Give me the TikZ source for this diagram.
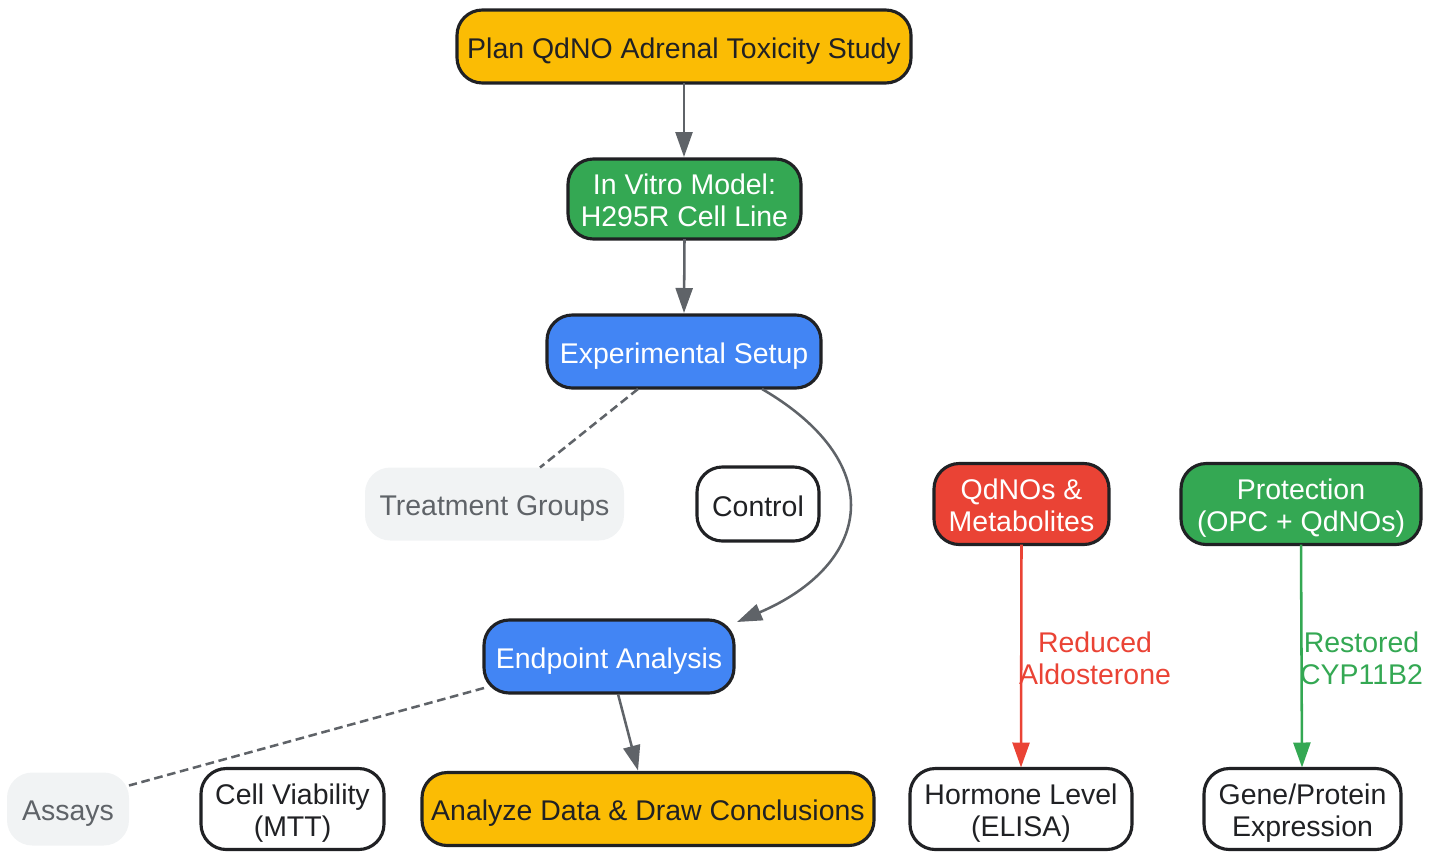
\documentclass[tikz,border=0pt]{standalone}
\usepackage{fontspec}
\setmainfont{Liberation Sans}
\usetikzlibrary{arrows.meta,calc}
\definecolor{ink}{HTML}{202124}
\definecolor{edge}{HTML}{5F6368}
\definecolor{gblue}{HTML}{4285F4}
\definecolor{ggreen}{HTML}{34A853}
\definecolor{gred}{HTML}{EA4335}
\definecolor{gyellow}{HTML}{FBBC04}
\definecolor{ggrey}{HTML}{F1F3F4}
\newcommand{\twolines}[2]{\rule{0pt}{22pt}#1\\#2\rule[-5.5pt]{0pt}{5.5pt}}
\tikzset{
  x=0.75pt,y=-0.75pt,
  sz/.style 2 args={minimum width=#1*0.75pt,minimum height=#2*0.75pt},
  one/.style={text height=18.3pt,text depth=0pt},
  onelow/.style={text height=17pt,text depth=0pt},
  base/.style={rectangle,rounded corners=19pt,inner sep=0pt,outer sep=0pt,align=center,
    font=\fontsize{21.35pt}{24pt}\selectfont,line width=2.35pt,draw=ink,text=ink},
  yellowbox/.style={base,fill=gyellow},
  greenbox/.style={base,fill=ggreen,text=white},
  bluebox/.style={base,fill=gblue,text=white},
  redbox/.style={base,fill=gred,text=white},
  whitebox/.style={base,fill=white},
  greybox/.style={base,draw=none,fill=ggrey,text=edge},
  tip/.style={-{Triangle[length=18.75pt,width=12.75pt]}},
  flow/.style={tip,line width=1.9pt,draw=edge},
  dashlink/.style={line width=1.9pt,draw=edge,dash pattern=on 6.5pt off 3.5pt},
  lab/.style={inner sep=0pt,align=center,font=\fontsize{21.35pt}{24pt}\selectfont},
}
\begin{document}
\begin{tikzpicture}
\useasboundingbox (0,0) rectangle (1441,851);
\node[yellowbox,one,sz={454}{73}] (plan) at (684,46.5) {Plan QdNO Adrenal Toxicity Study};
\node[greenbox,sz={233}{80}] (vitro) at (684.5,199) {\twolines{In Vitro Model:}{H295R Cell Line}};
\node[bluebox,one,sz={274}{73}] (setup) at (684,351.5) {Experimental Setup};
\node[greybox,onelow,sz={259}{73}] (groups) at (494.5,504) {Treatment Groups};
\node[whitebox,one,sz={122}{74}] (control) at (758,504) {Control};
\node[redbox,sz={175}{81}] (qdno) at (1021.5,504) {\twolines{QdNOs \&}{Metabolites}};
\node[greenbox,sz={240}{81}] (prot) at (1301,504) {\twolines{Protection}{(OPC + QdNOs)}};
\node[bluebox,one,sz={250}{73}] (endp) at (609,656.5) {Endpoint Analysis};
\node[greybox,onelow,sz={122}{73}] (assays) at (68,809) {Assays};
\node[whitebox,sz={183}{81}] (cell) at (292.5,809) {\twolines{Cell Viability}{(MTT)}};
\node[yellowbox,onelow,sz={452}{73}] (analyze) at (648,809) {Analyze Data \& Draw Conclusions};
\node[whitebox,sz={222}{81}] (horm) at (1021,809) {\twolines{Hormone Level}{(ELISA)}};
\node[whitebox,sz={197}{81}] (gene) at (1302.5,809) {\twolines{Gene/Protein}{Expression}};

\draw[flow] (plan.south) -- ($(vitro.north)+(-0.5,-2)$);
\draw[flow] (vitro.south) -- ($(setup.north)+(0,-2)$);
\draw[dashlink] ($(setup.south)+(-46,1)$) -- ($(groups.north)+(45.5,0)$);
\draw[flow] ($(setup.south)+(78,1)$) .. controls +(55,32) and (851,462) .. (851,505)
  .. controls (851,552) and (812,590) .. ($(endp.north east)+(3,2)$);
\draw[dashlink] ($(endp.south west)+(0,-5)$) -- ($(assays.north east)+(0,13)$);
\draw[flow] ($(endp.south)+(9,1)$) -- ($(analyze.north)+(-10,-2)$);
\draw[tip,line width=1.9pt,draw=gred] (qdno.south) -- ($(horm.north)+(0,-1)$);
\draw[tip,line width=1.9pt,draw=ggreen] (prot.south) -- ($(gene.north)+(-0.5,-1)$);
\node[lab,text=gred] (reduced) at (1095,658) {Reduced\\Aldosterone};
\node[lab,text=ggreen] (restored) at (1361.5,658) {Restored\\CYP11B2};
\end{tikzpicture}
\end{document}
